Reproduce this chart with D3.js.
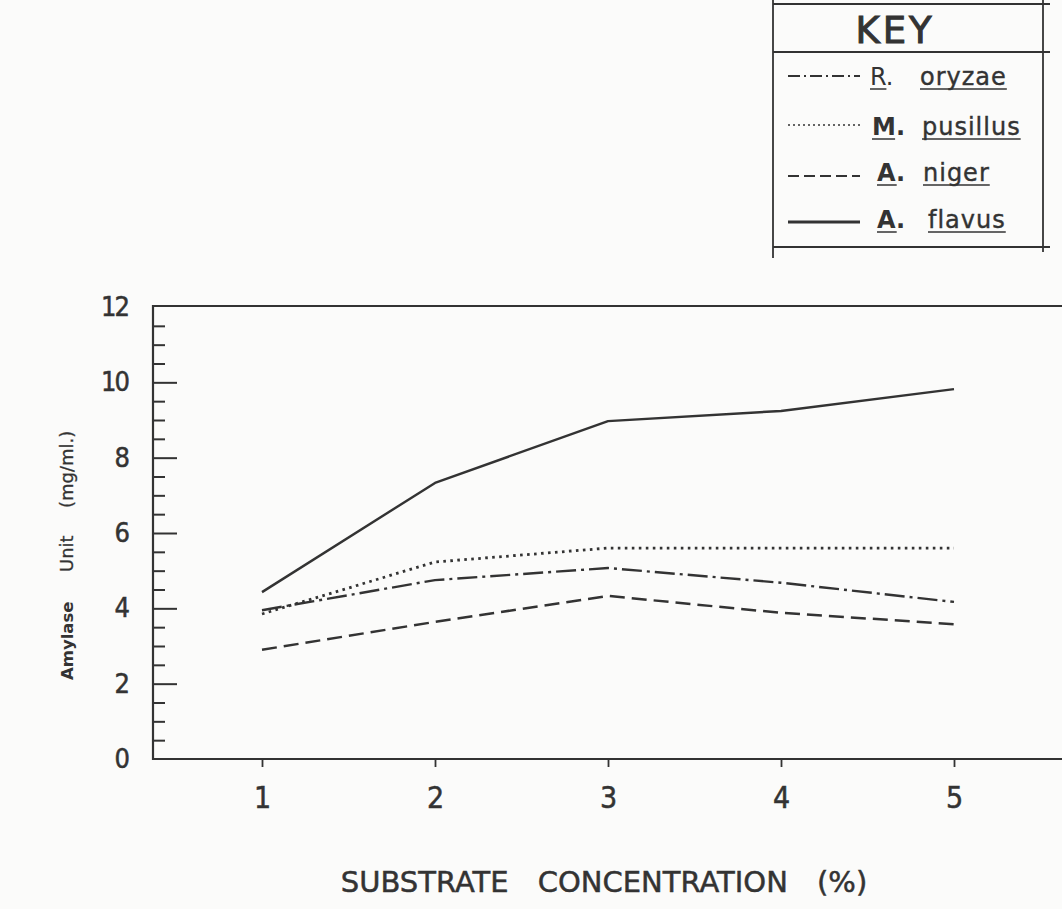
<!DOCTYPE html>
<html>
<head>
<meta charset="utf-8">
<script src="https://cdn.jsdelivr.net/npm/d3@7"></script>
<style>
body{margin:0;background:#fbfbfa;}
svg{display:block;}
</style>
</head>
<body>
<script>
// values
const conc=[1,2,3,4,5];
const oryzae=[3.95,4.75,5.07,4.68,4.17];
const pusillus=[3.85,5.23,5.6,5.6,5.6];
const niger=[2.9,3.64,4.33,3.88,3.58];
const flavus=[4.43,7.33,8.97,9.24,9.82];
const yTicks=[0,2,4,6,8,10,12];
const keyNames=[["R.","oryzae"],["M.","pusillus"],["A.","niger"],["A.","flavus"]];

const w=1062,h=909;
const ink="#333333";
const svg=d3.select("body").append("svg")
  .attr("width",w).attr("height",h)
  .style("font-family","'DejaVu Sans',sans-serif");

const x=d3.scaleLinear().domain([1,5]).range([262,954]);
const y=d3.scaleLinear().domain([0,12]).range([759,307]);

const left=153,right=1062;

// frame
svg.append("path")
  .attr("d",`M${right},${y(12)-1}H${left}V${y(0)}H${right}`)
  .attr("fill","none").attr("stroke",ink).attr("stroke-width",2.2);

// y axis, ticks pointing inward
const numFont="'DejaVu Sans Condensed','DejaVu Sans',sans-serif";
const yMinor=svg.append("g").attr("transform",`translate(${left},0)`)
  .call(d3.axisLeft(y).tickValues(d3.range(0.5,12,1).concat(d3.range(1,12,2))).tickSizeInner(-12).tickSizeOuter(0).tickFormat(""));
yMinor.select(".domain").remove();
const yAxis=svg.append("g").attr("transform",`translate(${left},0)`)
  .call(d3.axisLeft(y).tickValues(yTicks).tickSizeInner(-24).tickSizeOuter(0).tickPadding(25));
yAxis.select(".domain").remove();
svg.selectAll(".tick line").attr("stroke",ink).attr("stroke-width",2);
yAxis.selectAll("text").attr("font-family",numFont).style("font-stretch","condensed")
  .attr("font-size",27).attr("fill",ink).attr("letter-spacing",-2)
  .attr("stroke",ink).attr("stroke-width",0.5);
yAxis.selectAll(".tick").filter(d=>d===0||d===12).select("line").remove();

// x axis
const xAxis=svg.append("g").attr("transform",`translate(0,${y(0)})`)
  .call(d3.axisBottom(x).tickValues(conc).tickSizeInner(8).tickSizeOuter(0).tickPadding(20).tickFormat(d3.format("d")));
xAxis.select(".domain").remove();
xAxis.selectAll("line").attr("stroke",ink).attr("stroke-width",1.8);
xAxis.selectAll("text").attr("font-family",numFont).style("font-stretch","condensed")
  .attr("font-size",30).attr("fill",ink).attr("stroke",ink).attr("stroke-width",0.5);

// axis titles
svg.append("text").attr("x",604).attr("y",892).attr("text-anchor","middle")
  .attr("font-size",29).attr("fill",ink).attr("word-spacing",20)
  .attr("stroke",ink).attr("stroke-width",0.5)
  .text("SUBSTRATE CONCENTRATION (%)");

const yl=svg.append("g").attr("transform","translate(73,0) rotate(-90)").attr("fill",ink);
yl.append("text").attr("x",-680).attr("font-size",16.5).attr("font-weight","bold").text("Amylase");
yl.append("text").attr("x",-572).attr("font-size",18).attr("stroke",ink).attr("stroke-width",0.3).text("Unit");
yl.append("text").attr("x",-508).attr("font-size",18).attr("stroke",ink).attr("stroke-width",0.3).text("(mg/ml.)");

// series
const series=[
  {vals:oryzae,dash:"20,5,3,5",sw:2.4,kdash:"12,4,2,4",ksw:2},
  {vals:pusillus,dash:"2.6,4.4",sw:2.8,kdash:"2,3",ksw:1.6},
  {vals:niger,dash:"15,7",sw:2.5,kdash:"11,5",ksw:2},
  {vals:flavus,dash:null,sw:2.4,kdash:null,ksw:2.8}
];
const line=d3.line().x((d,i)=>x(conc[i])).y(d=>y(d));
svg.append("g").selectAll("path").data(series).join("path")
  .attr("d",d=>line(d.vals))
  .attr("fill","none").attr("stroke",ink)
  .attr("stroke-width",d=>d.sw)
  .attr("stroke-dasharray",d=>d.dash)
  .attr("stroke-linejoin","round");

// key box
const key=svg.append("g").attr("stroke",ink).attr("stroke-width",1.8);
key.append("line").attr("x1",773).attr("x2",773).attr("y1",0).attr("y2",258);
key.append("line").attr("x1",1043).attr("x2",1043).attr("y1",0).attr("y2",252);
[4,52,247].forEach(v=>key.append("line").attr("x1",773).attr("x2",1050).attr("y1",v).attr("y2",v));
svg.append("text").attr("x",895).attr("y",43).attr("text-anchor","middle")
  .attr("font-size",37).attr("letter-spacing",3).attr("fill",ink)
  .attr("stroke",ink).attr("stroke-width",1).text("KEY");

const rowY=[76,125,176,222];
const baseY=[85,135,181,228];
const gx=[870,872,877,877];
const sx=[920,922,923,928];
const rows=svg.append("g").selectAll("g").data(series).join("g");
rows.append("line").attr("x1",788).attr("x2",860)
  .attr("y1",(d,i)=>rowY[i]).attr("y2",(d,i)=>rowY[i])
  .attr("stroke",ink).attr("stroke-width",d=>d.ksw).attr("stroke-dasharray",d=>d.kdash);
rows.each(function(d,i){
  const g=d3.select(this);
  const t1=g.append("text").attr("x",gx[i]).attr("y",baseY[i]).attr("font-size",24)
    .attr("font-weight",i===0?"normal":"bold").attr("fill",ink).text(keyNames[i][0]);
  const t2=g.append("text").attr("x",sx[i]).attr("y",baseY[i]).attr("font-size",24)
    .attr("letter-spacing",1).attr("fill",ink).attr("stroke",ink).attr("stroke-width",0.4)
    .text(keyNames[i][1]);
  const cw=t1.node().getBBox().width*0.7;
  const sw=t2.node().getBBox().width;
  g.append("line").attr("x1",gx[i]).attr("x2",gx[i]+cw).attr("y1",baseY[i]+4).attr("y2",baseY[i]+4)
    .attr("stroke",ink).attr("stroke-width",1.5);
  g.append("line").attr("x1",sx[i]).attr("x2",sx[i]+sw).attr("y1",baseY[i]+4).attr("y2",baseY[i]+4)
    .attr("stroke",ink).attr("stroke-width",1.5);
});
</script>
</body>
</html>
